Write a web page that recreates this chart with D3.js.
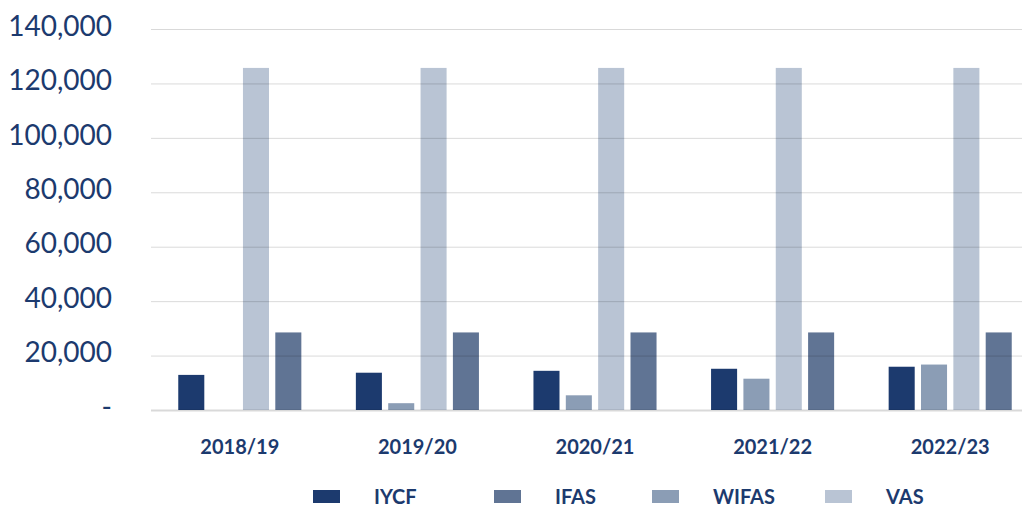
<!DOCTYPE html>
<html>
<head>
<meta charset="utf-8">
<script src="https://cdn.jsdelivr.net/npm/d3@7"></script>
<style>
  body { margin: 0; background: #fff; }
  svg text { font-family: Lato, "Open Sans", sans-serif; fill: #1c3a6e; }
</style>
</head>
<body>
<svg id="chart" width="1024" height="508"></svg>
<script>
// data
var years = ['2018/19', '2019/20', '2020/21', '2021/22', '2022/23'];
var barOrder = ['IYCF', 'WIFAS', 'VAS', 'IFAS'];
var legendOrder = ['IYCF', 'IFAS', 'WIFAS', 'VAS'];
var iycf  = [12900, 13700, 14400, 15150, 15900];
var wifas = [0, 2500, 5400, 11500, 16700];
var vas   = [125700, 125700, 125700, 125700, 125700];
var ifas  = [28500, 28500, 28500, 28500, 28500];
var yTicks = [0, 20000, 40000, 60000, 80000, 100000, 120000, 140000];

var series = { IYCF: iycf, WIFAS: wifas, VAS: vas, IFAS: ifas };
var colors = { IYCF: '#1c3a6e', IFAS: '#607494', WIFAS: '#8b9db5', VAS: '#b9c4d4' };

var svg = d3.select('#chart');
var margin = { left: 151, right: -15, top: 29, bottom: 98 };
var W = 1024, H = 508;

var x0 = d3.scaleBand().domain(years)
	.range([margin.left, W - margin.right])
	.paddingInner(0.307).paddingOuter(0.1535);
var x1 = d3.scaleBand().domain(barOrder)
	.range([0, x0.bandwidth()])
	.paddingInner(0.195);
var y = d3.scaleLinear().domain([0, 140000]).range([H - margin.bottom, margin.top]);

var fmt = d3.format(',');

// bars
var groups = svg.append('g').selectAll('g')
	.data(years)
	.join('g')
	.attr('transform', function(d) { return 'translate(' + x0(d) + ',0)'; });

groups.selectAll('rect')
	.data(function(d, i) {
		return barOrder.map(function(k) { return { key: k, value: series[k][i] }; });
	})
	.join('rect')
	.attr('x', function(d) { return x1(d.key); })
	.attr('y', function(d) { return y(d.value); })
	.attr('width', x1.bandwidth())
	.attr('height', function(d) { return y(0) - y(d.value); })
	.attr('fill', function(d) { return colors[d.key]; });

// gridlines on top of the bars, slightly see-through
var yAxis = d3.axisLeft(y)
	.tickValues(yTicks)
	.tickSize(-(1022 - margin.left))
	.tickPadding(39)
	.tickFormat(function(d) { return d === 0 ? '-' : fmt(d); });

var ga = svg.append('g')
	.attr('transform', 'translate(' + margin.left + ',0)')
	.call(yAxis);
ga.select('.domain').remove();
ga.selectAll('.tick line')
	.attr('stroke', 'rgba(0,0,0,0.15)')
	.attr('stroke-width', function(d) { return d === 0 ? 2 : 1; });
ga.selectAll('.tick text')
	.attr('font-size', 28)
	.attr('dy', '0.22em')
	.style('font-family', 'Lato, sans-serif')
	.attr('fill', '#1c3a6e');

// category labels
var xAxis = d3.axisBottom(x0).tickSize(0).tickPadding(30);
var gx = svg.append('g')
	.attr('transform', 'translate(0,' + y(0) + ')')
	.call(xAxis);
gx.select('.domain').remove();
gx.selectAll('.tick text')
	.attr('font-size', 20)
	.attr('font-weight', 'bold')
	.style('font-family', 'Lato, sans-serif')
	.attr('fill', '#1c3a6e');

// legend
var legX = [313, 494, 652, 825];
var leg = svg.append('g').selectAll('g')
	.data(legendOrder)
	.join('g')
	.attr('transform', function(d, i) { return 'translate(' + legX[i] + ',490)'; });
leg.append('rect')
	.attr('width', 27).attr('height', 13)
	.attr('fill', function(d) { return colors[d]; });
leg.append('text')
	.attr('x', 61).attr('y', 14)
	.attr('font-size', 20)
	.attr('font-weight', 'bold')
	.text(function(d) { return d; });
</script>
</body>
</html>
